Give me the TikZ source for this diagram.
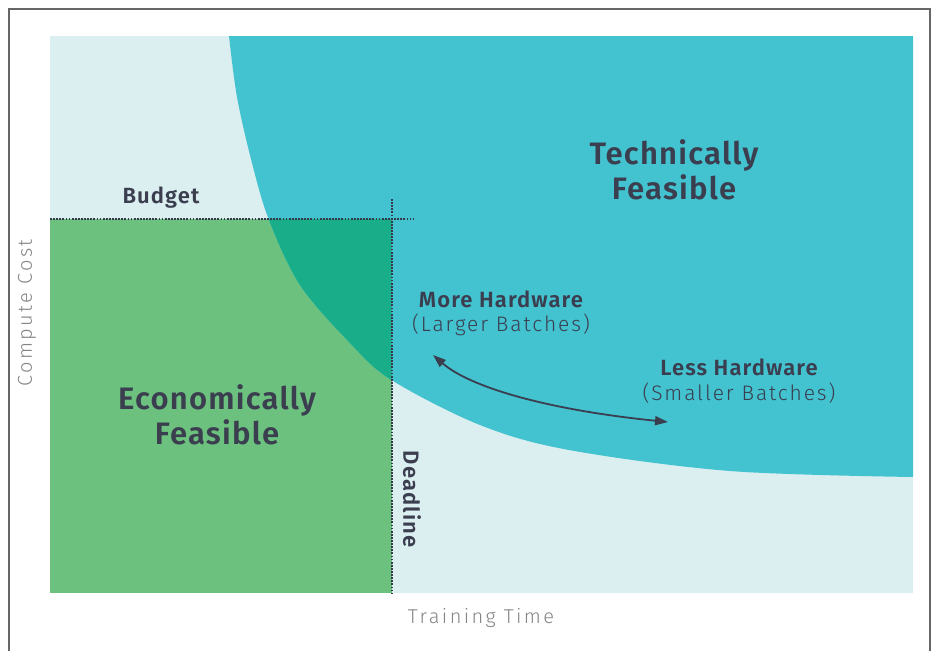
\documentclass[tikz,border=0pt]{standalone}
\usepackage{fontspec}
\setmainfont{Fira Sans}
\newfontfamily\fbig{Fira Sans SemiBold}[LetterSpace=4]
\newfontfamily\fmid{Fira Sans SemiBold}[LetterSpace=5]
\newfontfamily\fsub{Fira Sans Light}[LetterSpace=9]
\newfontfamily\faxis{Fira Sans Light}[LetterSpace=12]
\usetikzlibrary{arrows.meta}
\definecolor{bgl}{HTML}{DBEEF0}
\definecolor{tealc}{HTML}{43C2D0}
\definecolor{greenc}{HTML}{6CC17F}
\definecolor{overl}{HTML}{19AD8A}
\definecolor{txt}{HTML}{3B3E4F}
\definecolor{axisc}{HTML}{858585}
\definecolor{framec}{HTML}{666666}
\definecolor{dotc}{HTML}{343A4A}
\tikzset{
  bigtxt/.style={text=txt, font=\fbig\fontsize{31}{35}\selectfont, align=center, inner sep=0pt},
  midtxt/.style={text=txt, font=\fmid\fontsize{22}{26}\selectfont, inner sep=0pt},
  subtxt/.style={text=txt, font=\fsub\fontsize{21}{25}\selectfont, inner sep=0pt},
  axistxt/.style={text=axisc, font=\faxis\fontsize{20}{24}\selectfont, inner sep=0pt},
  dotline/.style={dotc, line width=2pt, dash pattern=on 1.8pt off 1.3pt},
  arr/.style={txt, line width=1.8pt, {Triangle[length=13pt,width=9pt]}-{Triangle[length=13pt,width=9pt]}}
}
\begin{document}
\begin{tikzpicture}[x=1pt,y=-1pt]
\useasboundingbox (0,0) rectangle (935,651);
% frame
\draw[framec, line width=2pt] (8.5,651) -- (8.5,8.5) -- (930,8.5) -- (930,651);
% background
\fill[bgl] (50,36) rectangle (913,593);
% economic region
\fill[greenc] (50,219) rectangle (391.5,593);
% technical region
\def\techpath{(913,36) -- (229,36) -- plot[smooth, tension=0.55] coordinates {(229,36) (237,97) (252,163) (269,220) (300,285) (350,343) (391.5,380) (480,425) (569,450) (730,471) (913,477)} -- cycle}
\fill[tealc] \techpath;
\begin{scope}
  \clip (50,219) rectangle (391.5,593);
  \fill[overl] \techpath;
\end{scope}
% dotted lines
\coordinate (b0) at (50,219);
\coordinate (b1) at (414,219);
\coordinate (d0) at (391.5,199);
\coordinate (d1) at (391.5,593);
\draw[dotline] (b0) -- (b1);
\draw[dotline] (d0) -- (d1);
% labels
\node[bigtxt] (tech) at (674,170) {Technically\\Feasible};
\node[bigtxt] (econ) at (217,415) {Economically\\Feasible};
\node[midtxt] (budget) at (161,198) {Budget};
\node[midtxt, rotate=-90] (deadline) at (412,499) {Deadline};
\node[midtxt] (more) at (501,299) {More Hardware};
\node[subtxt] (larger) at (501,325) {(Larger Batches)};
\node[midtxt] (less) at (739,367) {Less Hardware};
\node[subtxt] (smaller) at (739,393) {(Smaller Batches)};
\node[axistxt, rotate=90] (ylab) at (27,313) {Compute Cost};
\node[axistxt] (xlab) at (481,618) {Training Time};
% arrow
\coordinate (mh) at (433,355);
\coordinate (lh) at (668,422);
\draw[arr] (mh) .. controls (470.7,387.7) and (549,410) .. (lh);
\end{tikzpicture}
\end{document}
